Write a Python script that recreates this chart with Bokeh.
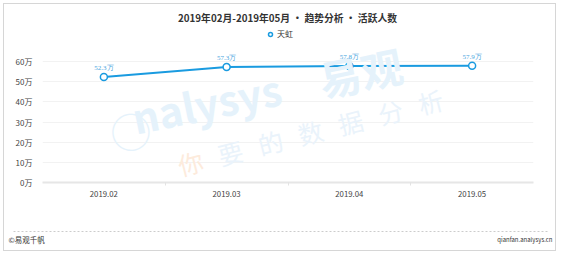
import math
from bokeh.plotting import figure
from bokeh.layouts import column
from bokeh.models import (ColumnDataSource, Range1d, FixedTicker, PrintfTickFormatter,
                          Label, LabelSet, Legend, LegendItem)
from bokeh.embed import file_html
from bokeh.resources import INLINE

months = ["2019.02", "2019.03", "2019.04", "2019.05"]
series_name = "天虹"
values = [52.3, 57.3, 57.8, 57.9]
y_ticks = [0, 10, 20, 30, 40, 50, 60]
title_text = "2019年02月-2019年05月 • 趋势分析 • 活跃人数"
footer_left = "©易观千帆"
footer_right = "qianfan.analysys.cn"

FONT = "Noto Sans CJK SC"
BLUE = "#1a9be0"
W = 551

# ---------------- header ----------------
HH = 41
head = figure(width=W, height=HH, output_backend="svg", toolbar_location=None,
              x_range=Range1d(0, W), y_range=Range1d(0, HH), min_border=0)
head.axis.visible = False
head.grid.visible = False
head.outline_line_color = None
head.add_layout(Label(x=283, y=HH - 13, text=title_text, text_align="center",
                      text_baseline="middle", text_font=FONT, text_font_size="9.8px",
                      text_font_style="bold", text_color="#333333"))
dummy = head.scatter(x=[float("nan")], y=[float("nan")], size=7, fill_color="white",
                     line_color=BLUE, line_width=1.5)
leg = Legend(items=[LegendItem(label=series_name, renderers=[dummy])], location=(261, 6),
             orientation="horizontal", border_line_color=None, background_fill_alpha=0,
             label_text_font=FONT, label_text_font_size="8px", label_text_color="#333333",
             glyph_width=10, glyph_height=10, padding=0, margin=0, label_standoff=2,
             label_height=10)
head.add_layout(leg, "center")

# ---------------- main ----------------
xs = [i + 0.5 for i in range(len(months))]
src = ColumnDataSource(dict(x=xs, y=values, lab=[f"{v}万" for v in values]))

FL, FR, FT, FB = 42, 533, 45, 182       # frame edges on the page
YMAX = 60 * (FB - FT) / (FB - 61)
p = figure(width=W, height=170, output_backend="svg", toolbar_location=None,
           x_range=Range1d(0, len(months)), y_range=Range1d(0, YMAX),
           min_border_left=FL - 4, min_border_right=W + 4 - FR, min_border_top=0,
           min_border_bottom=170 - (FB - FT))
p.outline_line_color = None

p.xaxis.ticker = FixedTicker(ticks=xs, minor_ticks=list(range(1, len(months))))
p.xaxis.major_label_overrides = {x: m for x, m in zip(xs, months)}
p.xaxis.major_tick_line_color = None
p.xaxis.minor_tick_out = 3
p.xaxis.minor_tick_in = 0
p.xaxis.minor_tick_line_color = "#e3e3e3"
p.xaxis.axis_line_color = "#e6e6e6"
p.xaxis.axis_line_width = 2
p.xaxis.major_label_text_font = FONT
p.xaxis.major_label_text_font_size = "7.8px"
p.xaxis.major_label_text_color = "#444444"
p.xaxis.major_label_standoff = 2

p.yaxis.ticker = FixedTicker(ticks=y_ticks)
p.yaxis.formatter = PrintfTickFormatter(format="%d万")
p.yaxis.axis_line_color = None
p.yaxis.major_tick_line_color = None
p.yaxis.minor_tick_line_color = None
p.yaxis.major_label_text_font = FONT
p.yaxis.major_label_text_font_size = "8px"
p.yaxis.major_label_text_color = "#444444"
p.yaxis.major_label_standoff = 4

p.xgrid.grid_line_color = None
p.ygrid.grid_line_color = "#f2f2f2"
p.ygrid.ticker = FixedTicker(ticks=y_ticks[1:])


# watermark (decoration, placed in page pixels)
def px(x):
    return (x - FL) / (FR - FL) * len(months)


def py(y):
    return (FB - y) / (FB - FT) * YMAX


WM_BLUE = "#e5f2fb"
p.add_layout(Label(x=px(130), y=py(130), text="◯", angle=0.2, text_align="center",
                   text_baseline="middle", text_font=FONT, text_font_size="40px",
                   text_color=WM_BLUE))
p.add_layout(Label(x=px(138), y=py(146), text="nalysys", angle=0.2,
                   text_font=FONT, text_font_size="41px", text_font_style="bold",
                   text_color=WM_BLUE))
p.add_layout(Label(x=px(325), y=py(109), text="易观", angle=0.2,
                   text_font=FONT, text_font_size="42px", text_font_style="bold",
                   text_color=WM_BLUE))
wm2 = "你要的数据分析"
for i, ch in enumerate(wm2):
    p.add_layout(Label(x=px(190 + i * 40), y=py(162 - i * 10.2), text=ch, angle=0.25,
                       text_align="center", text_baseline="middle",
                       text_font=FONT, text_font_size="25px",
                       text_color="#fdebdc" if i == 0 else "#eaf3fb"))

p.line("x", "y", source=src, line_color=BLUE, line_width=2)
p.scatter("x", "y", source=src, size=7, fill_color="white", line_color=BLUE, line_width=1.5)
p.add_layout(LabelSet(x="x", y="y", text="lab", source=src, y_offset=5, text_align="center",
                      text_font=FONT, text_font_size="7px", text_color="#4aa6e0"))

# ---------------- footer ----------------
FH = 35
foot = figure(width=W, height=FH, output_backend="svg", toolbar_location=None,
              x_range=Range1d(0, W), y_range=Range1d(0, FH), min_border=0)
foot.axis.visible = False
foot.grid.visible = False
foot.outline_line_color = None
foot.segment(x0=[9], y0=[FH - 16], x1=[543], y1=[FH - 16], line_color="#cccccc",
             line_width=1, line_dash="2 2")
foot.add_layout(Label(x=4, y=FH - 24, text=footer_left, text_baseline="middle", text_font=FONT,
                      text_font_size="7.5px", text_color="#333333"))
foot.add_layout(Label(x=548, y=FH - 24, text=footer_right, text_align="right",
                      text_baseline="middle", text_font=FONT, text_font_size="6px",
                      text_color="#333333"))

layout = column(column(head, margin=0), p, column(foot, margin=0), spacing=0,
                margin=(3, 0, 0, 3), styles={"border": "1px solid #d6d6d6"})

out = open("out.html", "w")
out.write(file_html(layout, INLINE))
out.close()
